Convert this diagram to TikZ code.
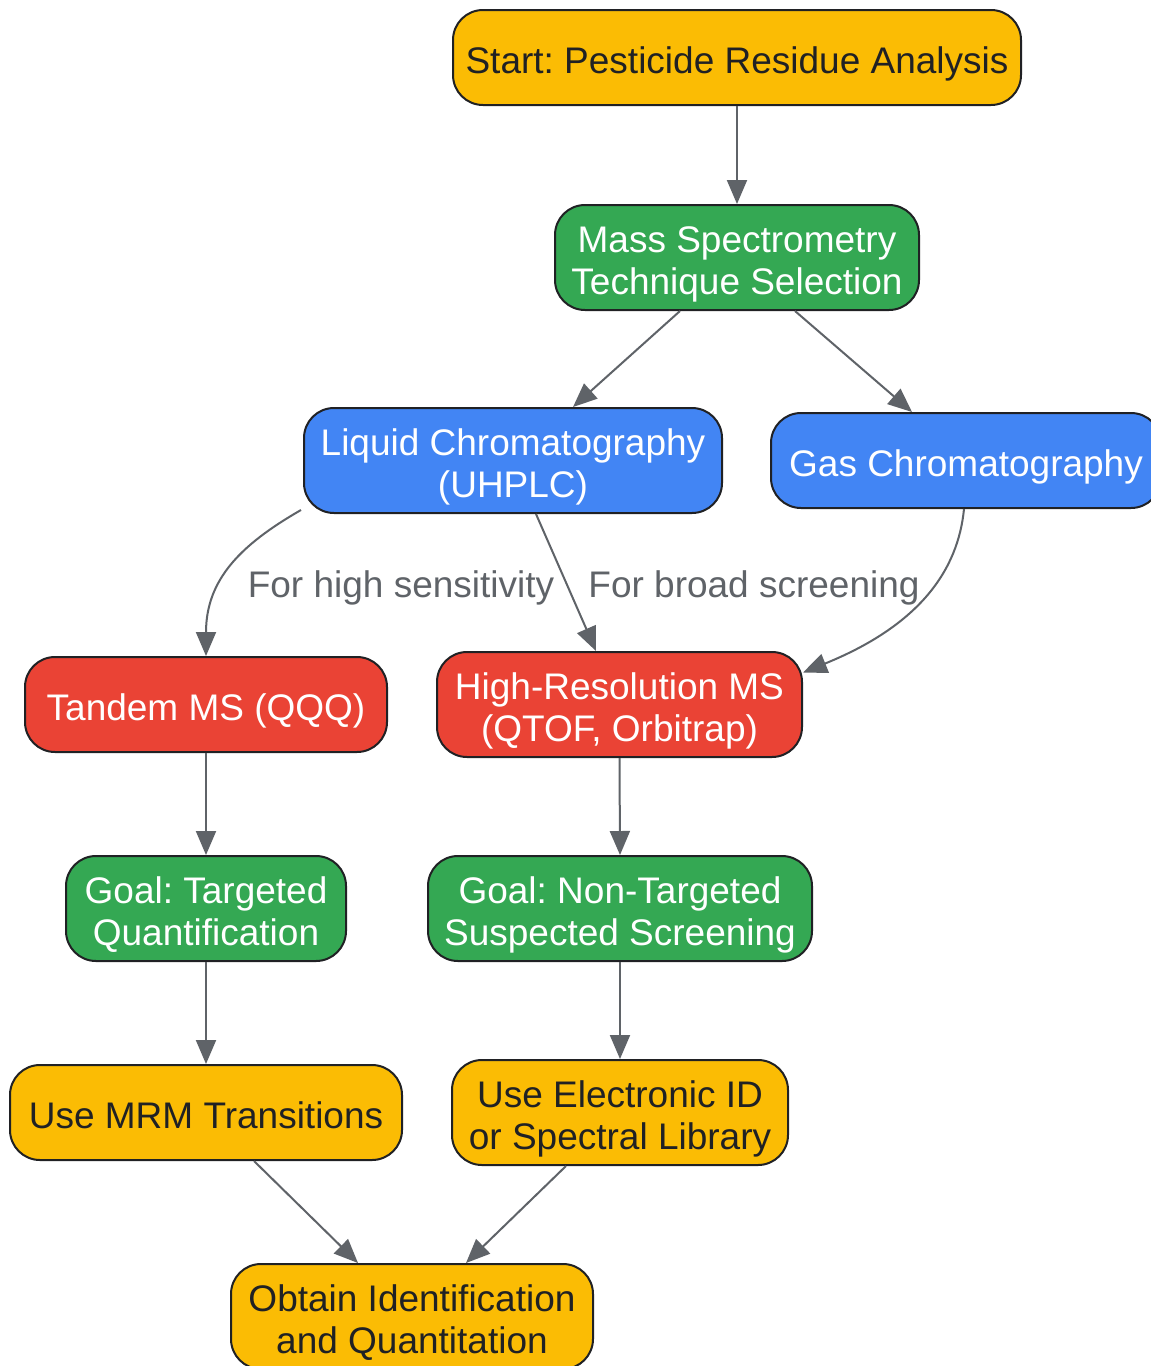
\documentclass[tikz,border=0pt]{standalone}
\usepackage{fontspec}
\setmainfont{Liberation Sans}
\usetikzlibrary{arrows.meta}
\definecolor{cyel}{HTML}{FBBC04}
\definecolor{cgrn}{HTML}{34A853}
\definecolor{cblu}{HTML}{4285F4}
\definecolor{cred}{HTML}{EA4335}
\definecolor{cdark}{HTML}{202124}
\definecolor{cedge}{HTML}{5F6368}
\frenchspacing
\begin{document}
\begin{tikzpicture}[x=1pt,y=-1pt,
  box/.style={draw=cdark, line width=2pt, rounded corners=30pt, inner sep=0pt, align=center,
    font=\fontsize{37}{42}\selectfont},
  one/.style={text height=39.5pt, text depth=7.9pt},
  two/.style={text height=81pt, text depth=7.9pt},
  yel/.style={box, fill=cyel, text=cdark},
  grn/.style={box, fill=cgrn, text=white},
  blu/.style={box, fill=cblu, text=white},
  red/.style={box, fill=cred, text=white},
  conn/.style={draw=cedge, line width=2pt, -{Triangle[length=24pt,width=20pt]}},
  elabel/.style={text=cedge, inner sep=0pt, text height=33.5pt, text depth=7.9pt, font=\fontsize{37}{42}\selectfont}]
\useasboundingbox (0,0) rectangle (1151,1366);
\clip (0,0) rectangle (1151,1366);
\fill[white] (0,0) rectangle (1151,1366);

\node[yel, one, minimum width=568pt, minimum height=95pt] (start) at (737,57.5) {Start: Pesticide Residue Analysis};
\node[grn, two, minimum width=364pt, minimum height=105pt] (ms) at (737,257.5) {Mass Spectrometry\\Technique Selection};
\node[blu, two, minimum width=418pt, minimum height=105pt] (lc) at (513,460.5) {Liquid Chromatography\\(UHPLC)};
\node[blu, one, minimum width=390pt, minimum height=95pt] (gc) at (966,460.5) {Gas Chromatography};
\node[red, one, minimum width=362pt, minimum height=95pt] (tq) at (206,704.5) {Tandem MS (QQQ)};
\node[red, two, minimum width=365pt, minimum height=105pt] (hr) at (619.5,704.5) {High-Resolution MS\\(QTOF, Orbitrap)};
\node[grn, two, minimum width=280pt, minimum height=105pt] (gt) at (206,908.5) {Goal: Targeted\\Quantification};
\node[grn, two, minimum width=384pt, minimum height=105pt] (gn) at (620,908.5) {Goal: Non-Targeted\\Suspected Screening};
\node[yel, one, minimum width=392pt, minimum height=95pt] (mrm) at (206,1112.5) {Use MRM Transitions};
\node[yel, two, minimum width=336pt, minimum height=105pt] (eid) at (620,1112.5) {Use Electronic ID\\or Spectral Library};
\node[yel, two, minimum width=362pt, minimum height=105pt] (ob) at (412,1316.5) {Obtain Identification\\and Quantitation};

\node[elabel] (l1) at (401,585) {For high sensitivity};
\node[elabel] (l2) at (754,585) {For broad screening};

\draw[conn] (start.south) -- (ms.north);
\draw[conn] ([xshift=-57pt]ms.south) -- ([xshift=60pt]lc.north);
\draw[conn] ([xshift=58pt]ms.south) -- ([xshift=-54pt]gc.north);
\draw[conn] ([xshift=-2pt,yshift=4pt]lc.south west) .. controls (240,545) and (206,580) .. (tq.north);
\draw[conn] ([xshift=23pt]lc.south) -- ([xshift=-23.5pt]hr.north);
\draw[conn] ([xshift=-2pt]gc.south) .. controls (958,570) and (920,625) .. ([yshift=32pt]hr.east);
\draw[conn] (tq.south) -- (gt.north);
\draw[conn] (hr.south) -- (gn.north);
\draw[conn] (gt.south) -- (mrm.north);
\draw[conn] (gn.south) -- (eid.north);
\draw[conn] ([xshift=48pt]mrm.south) -- ([xshift=-54pt]ob.north);
\draw[conn] ([xshift=-54pt]eid.south) -- ([xshift=54pt]ob.north);
\end{tikzpicture}
\end{document}
